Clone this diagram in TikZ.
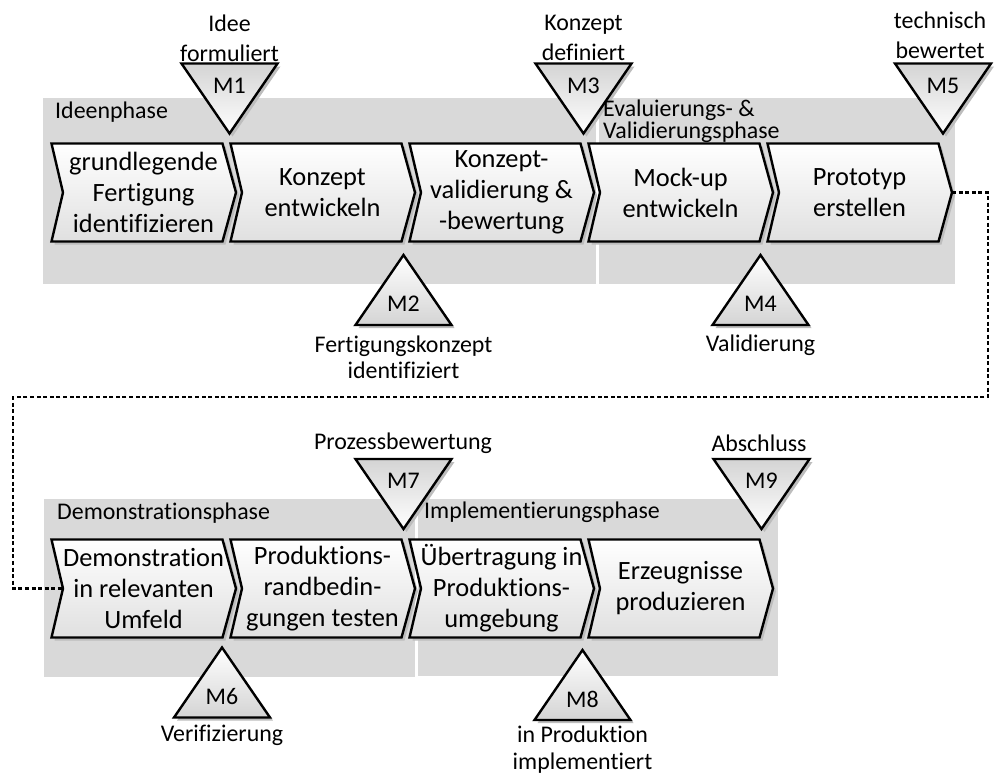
\documentclass[tikz,border=0pt]{standalone}
\usepackage{fontspec}
\setmainfont{Carlito}[Ligatures={TeX,NoCommon}]
\usetikzlibrary{calc}

\definecolor{phasebg}{HTML}{D9D9D9}
\definecolor{shadowgray}{HTML}{BDBDBD}
\definecolor{stepbottom}{HTML}{E0E0E0}
\definecolor{trifill}{HTML}{D4D4D4}

\tikzset{
  phasebox/.style={fill=phasebg, draw=none},
  phaselabel/.style={anchor=west, inner sep=0pt, align=left,
    font=\fontsize{23.9}{28}\selectfont},
  steptext/.style={align=center, inner sep=0pt,
    font=\fontsize{26.4}{31}\selectfont},
  outline/.style={draw=black, line width=2.4pt, line join=miter},
  dropshadow/.style={fill=shadowgray, draw=none},
  mslabel/.style={inner sep=0pt, font=\fontsize{23.9}{28}\selectfont},
  msnote/.style={align=center, inner sep=0pt,
    font=\fontsize{23.9}{30}\selectfont},
  flow/.style={line width=2.2pt, dash pattern=on 4pt off 2.6pt},
}

% process step (chevron): name, left x, top y, text
\newcommand\procstep[4]{%
  \fill[dropshadow] (#2+3,#3+3) -- ++(171,0) -- ++(13.5,49) -- ++(-13.5,49)
    -- ++(-171,0) -- ++(11.5,-49) -- cycle;
  \path[outline, top color=white, bottom color=stepbottom]
    (#2,#3) -- ++(171,0) -- ++(13.5,49) -- ++(-13.5,49)
    -- ++(-171,0) -- ++(11.5,-49) -- cycle;
  \coordinate (#1-tip) at (#2+184.5,#3+49);
  \coordinate (#1-notch) at (#2+11.5,#3+49);
  \node[steptext] (#1) at (#2+92,#3+49) {#4};
}

% milestone pointing down: name, centre x, top y, label
\newcommand\msdown[4]{%
  \fill[dropshadow] (#2-45,#3+3) -- (#2+51,#3+3) -- (#2+3,#3+73) -- cycle;
  \path[outline, top color=trifill, bottom color=white]
    (#2-48,#3) -- (#2+48,#3) -- (#2,#3+70) -- cycle;
  \node[mslabel] (#1) at (#2,#3+22) {#4};
}

% milestone pointing up: name, centre x, apex y, label
\newcommand\msup[4]{%
  \fill[dropshadow] (#2+3,#3+3) -- (#2+51,#3+73) -- (#2-45,#3+73) -- cycle;
  \path[outline, top color=white, bottom color=trifill]
    (#2,#3) -- (#2+48,#3+70) -- (#2-48,#3+70) -- cycle;
  \node[mslabel] (#1) at (#2,#3+49) {#4};
}

\begin{document}
\begin{tikzpicture}[x=1pt, y=-1pt]
\useasboundingbox (0,0) rectangle (995,776);

% phase backgrounds
\fill[phasebox] (43,98) rectangle (596,283.5);
\fill[phasebox] (599,98) rectangle (955,284);
\fill[phasebox] (44,498.5) rectangle (415,676.5);
\fill[phasebox] (418,498.5) rectangle (778,676);

% process steps, first row
\procstep{s1}{51.5}{143.5}{grundlegende\\Fertigung\\identifizieren}
\procstep{s2}{230.5}{143.5}{Konzept\\entwickeln}
\procstep{s3}{409.5}{143.5}{Konzept-\\validierung \&\\-bewertung}
\procstep{s4}{588.5}{143.5}{Mock-up\\entwickeln}
\procstep{s5}{767.5}{143.5}{Prototyp\\erstellen}

% process steps, second row
\procstep{s6}{51.5}{539.5}{Demonstration\\in relevanten\\Umfeld}
\procstep{s7}{230.5}{539.5}{Produktions-\\randbedin-\\gungen testen}
\procstep{s8}{409.5}{539.5}{Übertragung in\\Produktions-\\umgebung}
\procstep{s9}{588.5}{539.5}{Erzeugnisse\\produzieren}

% link from the first row to the second row
\coordinate (turnR) at (988,397);
\coordinate (turnL) at (13,397);
\draw[flow] (s5-tip) -| (turnR) -- (turnL) |- (s6-notch);

% milestones
\msdown{m1}{229.5}{63.5}{M1}
\msup{m2}{403.5}{255}{M2}
\msdown{m3}{583.5}{63.5}{M3}
\msup{m4}{760.5}{255}{M4}
\msdown{m5}{943}{63.5}{M5}
\msup{m6}{222}{647.5}{M6}
\msdown{m7}{403.5}{459}{M7}
\msup{m8}{582.5}{650}{M8}
\msdown{m9}{761.5}{459}{M9}

\node[msnote] (n1) at (229.5,38) {Idee\\formuliert};
\node[msnote] (n3) at (583.5,38) {Konzept\\definiert};
\node[msnote] (n5) at (940,35.5) {technisch\\bewertet};
\node[msnote, font=\fontsize{23.9}{26.5}\selectfont] (n2) at (403.5,357.5)
  {Fertigungskonzept\\identifiziert};
\node[msnote] (n4) at (760.5,345) {Validierung};
\node[msnote] (n6) at (222,735) {Verifizierung};
\node[msnote] (n7) at (403,443.5) {Prozessbewertung};
\node[msnote, font=\fontsize{23.9}{27}\selectfont] (n8) at (582.5,749.5)
  {in Produktion\\implementiert};
\node[msnote] (n9) at (759,443.5) {Abschluss};

% phase titles
\node[phaselabel] (p1) at (55,112) {Ideenphase};
\node[phaselabel, font=\fontsize{23.9}{18.5}\selectfont] (p2) at (603,121.5)
  {Evaluierungs- \&\\Validierungsphase};
\node[phaselabel] (p3) at (57,513.5) {Demonstrationsphase};
\node[phaselabel] (p4) at (424,512) {Implementierungsphase};
\end{tikzpicture}
\end{document}
